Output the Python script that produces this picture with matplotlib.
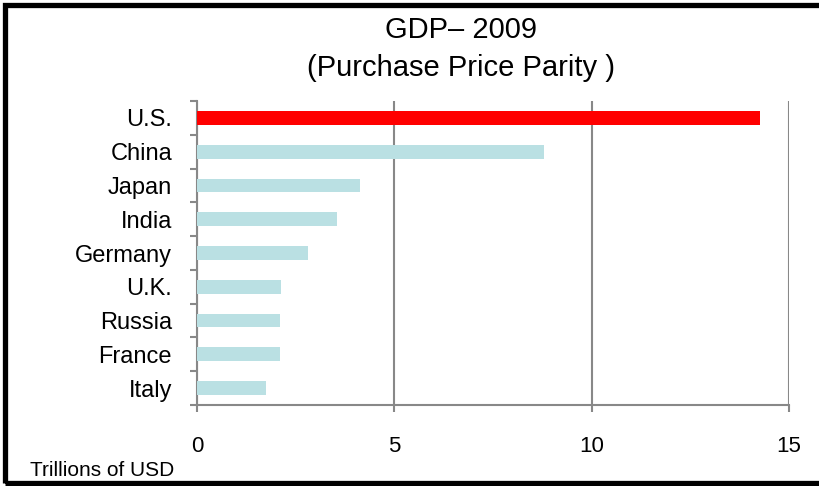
import matplotlib
matplotlib.use("Agg")
import matplotlib.pyplot as plt
from matplotlib.patches import Rectangle
import numpy as np

plt.rcParams['font.family'] = ['Liberation Sans', 'DejaVu Sans']

countries = ["U.S.", "China", "Japan", "India", "Germany", "U.K.", "Russia", "France", "Italy"]
gdp = [14.26, 8.79, 4.13, 3.55, 2.80, 2.13, 2.11, 2.11, 1.76]
bar_colors = ["#FF0000"] + ["#BAE0E3"] * 8
xticks = [0, 5, 10, 15]

W, H = 819, 486
fig = plt.figure(figsize=(W / 100, H / 100), dpi=100)
ax = fig.add_axes([197 / W, 1 - 405 / H, (789 - 197) / W, (405 - 101) / H])

y = np.arange(len(countries))
ax.barh(y, gdp, height=0.41, color=bar_colors, zorder=3)
ax.set_ylim(len(countries) - 0.5, -0.5)
ax.set_xlim(0, 15)

grey = "#888888"
ax.set_xticks(xticks)
ax.set_xticklabels([str(t) for t in xticks], fontsize=16)
ax.set_yticks(y)
ax.set_yticklabels(countries, fontsize=17)
ax.set_yticks(np.arange(-0.5, len(countries), 1.0), minor=True)
ax.tick_params(axis='y', which='major', length=0, pad=18)
ax.tick_params(axis='y', which='minor', length=5, width=1.5, color=grey, direction='out')
ax.tick_params(axis='x', which='major', length=5, width=1.5, color=grey, direction='out', pad=17)
ax.grid(axis='x', color=grey, linewidth=1.5, zorder=0)

for s in ['top', 'right']:
    ax.spines[s].set_visible(False)
for s in ['left', 'bottom']:
    ax.spines[s].set_color(grey)
    ax.spines[s].set_linewidth(1.5)

fig.text(461 / W, 1 - 30 / H, "GDP\u2013 2009", ha='center', va='center', fontsize=21)
fig.text(461 / W, 1 - 68 / H, "(Purchase Price Parity )", ha='center', va='center', fontsize=21)
fig.text(30 / W, 1 - 470 / H, "Trillions of USD", ha='left', va='center', fontsize=15)

fig.patches.append(Rectangle((5 / W, 3.5 / H), 1.2, 1 - 9 / H, transform=fig.transFigure,
                             fill=False, edgecolor='black', linewidth=3.8, clip_on=False))

fig.savefig("out.png", dpi=100)
